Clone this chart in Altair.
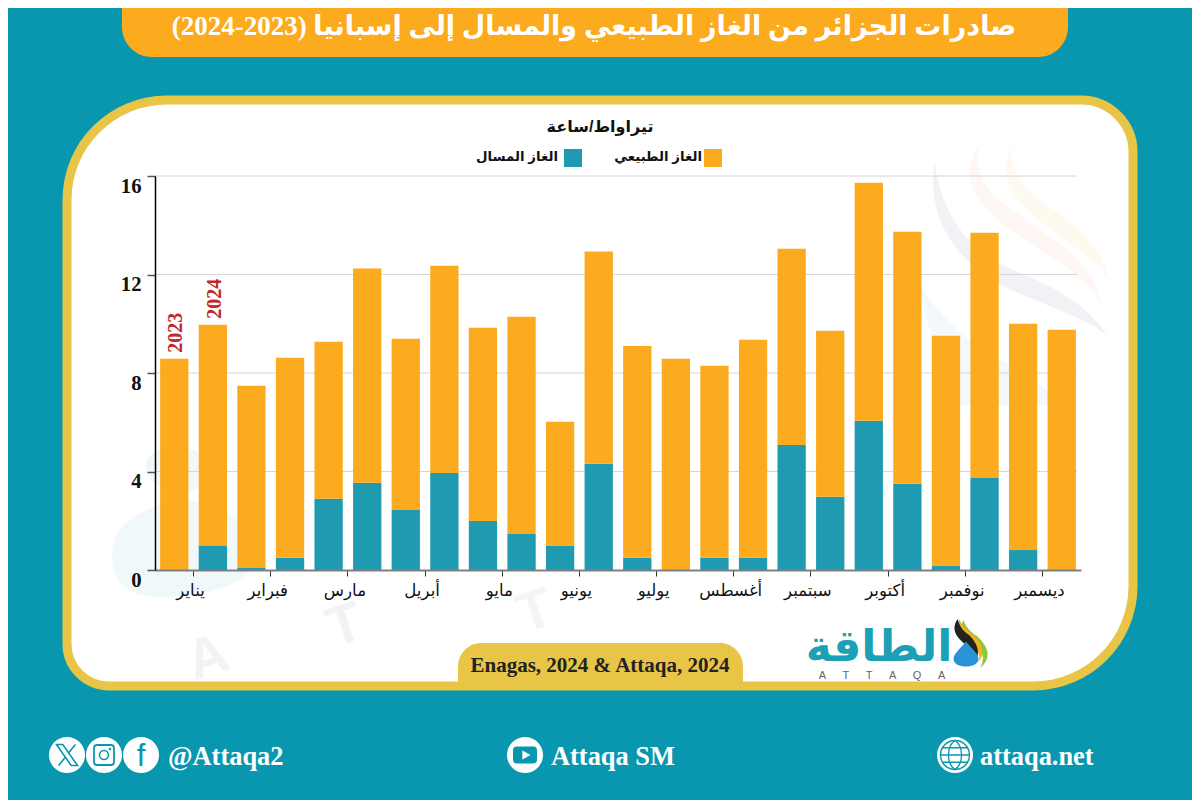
import altair as alt
import pandas as pd

# ---------- data ----------
months = ["يناير", "فبراير", "مارس", "أبريل", "مايو", "يونيو",
          "يوليو", "أغسطس", "سبتمبر", "أكتوبر", "نوفمبر", "ديسمبر"]
lng_2023 = [0.0, 0.08, 2.89, 2.44, 1.99, 1.0, 0.5, 0.5, 5.08, 6.06, 0.16, 0.81]
lng_2024 = [1.0, 0.5, 3.54, 3.94, 1.46, 4.31, 0.0, 0.5, 2.97, 3.5, 3.74, 0.0]
gas_2023 = [8.58, 7.4, 6.38, 6.95, 7.85, 5.02, 8.6, 7.79, 7.97, 9.67, 9.35, 9.19]
gas_2024 = [8.96, 8.12, 8.7, 8.42, 8.82, 8.62, 8.58, 8.85, 6.75, 10.24, 9.96, 9.76]
y_ticks = [0, 4, 8, 12, 16]
GAS = "الغاز الطبيعي"
LNG = "الغاز المسال"
UNIT = "تيراواط/ساعة"
TITLE = "\u202bصادرات الجزائر من الغاز الطبيعي والمسال إلى إسبانيا (2023-2024)\u202c"
SOURCE = "Enagas, 2024 & Attaqa, 2024"

# ---------- style ----------
TEAL_BG = "#0897ae"
GOLD = "#e8c547"
ORANGE = "#fcaa1e"
BLUE = "#1f9ab0"
SERIF = "Liberation Serif, DejaVu Sans"
ARABIC = "Liberation Sans, DejaVu Sans"
MARGIN = 8
PX, PY = 155, 176          # plot origin, in page pixels
W, H = 926, 394
TOTAL_W, TOTAL_H = 1184, 792

rows = []
for i, m in enumerate(months):
    rows.append(dict(month=m, year="2023", kind=LNG, ord=0, value=lng_2023[i]))
    rows.append(dict(month=m, year="2023", kind=GAS, ord=1, value=gas_2023[i]))
    rows.append(dict(month=m, year="2024", kind=LNG, ord=0, value=lng_2024[i]))
    rows.append(dict(month=m, year="2024", kind=GAS, ord=1, value=gas_2024[i]))
df = pd.DataFrame(rows)

EMPTY = alt.Data(values=[{}])


def rect(x1, y1, x2, y2, **kw):
    return alt.Chart(EMPTY).mark_rect(**kw).encode(
        x=alt.value(x1 - PX), x2=alt.value(x2 - PX),
        y=alt.value(y1 - PY), y2=alt.value(y2 - PY))


def text(x, y, s, **kw):
    return alt.Chart(EMPTY).mark_text(**kw).encode(
        x=alt.value(x - PX), y=alt.value(y - PY), text=alt.value(s))


def shape(cx, cy, width, path, fill=None, stroke=None, sw=0, op=1):
    kw = dict(shape=path, size=width * width, opacity=op, strokeWidth=sw)
    if fill:
        kw.update(filled=True, fill=fill)
    else:
        kw.update(filled=False, fill="transparent")
    kw.update(stroke=stroke if stroke else "transparent")
    return alt.Chart(EMPTY).mark_point(**kw).encode(
        x=alt.value(cx - PX), y=alt.value(cy - PY))


CIRCLE = "M-1,0A1,1 0 1,0 1,0A1,1 0 1,0 -1,0Z"
layers = []

# panel
layers.append(rect(67, 100, 1133, 686, fill="white",
                   cornerRadiusTopLeft=100, cornerRadiusTopRight=52,
                   cornerRadiusBottomRight=100, cornerRadiusBottomLeft=42))

# watermark
layers += [
    shape(1020, 245, 190, "M-0.9,-0.9C-1,-0.2 -0.6,0.2 -0.2,0.42C0.2,0.62 0.6,0.72 0.92,0.95"
                          "C0.6,0.5 0.2,0.4 -0.2,0.2C-0.6,0 -0.85,-0.4 -0.9,-0.9Z",
          fill="#dfe3e8", op=0.45),
    shape(1030, 230, 170, "M-0.6,-1C-0.95,-0.5 -0.4,-0.1 0,0.15C0.4,0.4 0.7,0.6 0.85,0.9"
                          "C0.75,0.4 0.4,0.2 0.05,-0.05C-0.3,-0.3 -0.7,-0.5 -0.6,-1Z",
          fill="#fbe3dc", op=0.3),
    shape(1050, 220, 150, "M-0.5,-1C-0.8,-0.5 -0.3,-0.1 0.1,0.2C0.4,0.4 0.7,0.6 0.8,0.85"
                          "C0.7,0.4 0.4,0.1 0.1,-0.1C-0.2,-0.3 -0.6,-0.6 -0.5,-1Z",
          fill="#fdf3d8", op=0.4),
    shape(990, 320, 170, "M-0.9,-0.6C-0.8,-0.1 -0.6,0.3 -0.55,1L0.8,1C0.6,0.6 0,0.5 -0.4,0.1C-0.6,-0.1 -0.8,-0.3 -0.9,-0.6Z",
          fill="#e9f4f8", op=0.6),
    shape(182, 522, 150, "M-0.1,-1C0.3,-1 0.5,-0.75 0.3,-0.5C0.1,-0.35 -0.2,-0.4 -0.4,-0.55C-0.6,-0.8 -0.4,-1 -0.1,-1Z"
                          "M-0.1,-0.3C0.3,-0.3 0.9,-0.1 1,0.4C1,0.8 0.4,1 -0.3,1C-0.9,1 -1,0.6 -0.9,0.2C-0.7,-0.1 -0.4,-0.2 -0.1,-0.3Z",
          fill="#eef7f9", op=0.9),
    text(208, 658, "A", font="Liberation Sans", fontSize=56, fontWeight="bold", fill="#f2f3f4",
         angle=342, align="center"),
    text(345, 626, "T", font="Liberation Sans", fontSize=56, fontWeight="bold", fill="#f2f3f4",
         angle=342, align="center"),
    text(535, 612, "T", font="Liberation Sans", fontSize=56, fontWeight="bold", fill="#f4f5f6",
         angle=342, align="center"),
]

# shared y scale and axis
y_scale = alt.Scale(domain=[0, 16])
y_axis = alt.Axis(values=y_ticks, grid=False, labelFont="Liberation Serif", labelFontSize=20.7,
                  labelFontWeight="bold", labelColor="#111", labelBaseline="top",
                  labelPadding=6, domainColor="#000", domainWidth=1.5,
                  tickColor="#555", tickSize=8, tickWidth=1.5, zindex=1)

# grid
grid = alt.Chart(pd.DataFrame({"t": [v for v in y_ticks if v > 0]})).mark_rule(
    color="#d6d6d6", strokeWidth=1).encode(
    y=alt.Y("t:Q", scale=y_scale, axis=y_axis, title=None),
    x=alt.value(0), x2=alt.value(922))
layers.append(grid)

# bars
x_scale = alt.Scale(domain=months, paddingInner=0, paddingOuter=0)
xo_scale = alt.Scale(domain=["2023", "2024"], paddingInner=0.267, paddingOuter=0.133)
bars = alt.Chart(df).mark_bar(strokeWidth=0).encode(
    x=alt.X("month:N", sort=months, scale=x_scale, title=None,
            axis=alt.Axis(labelAngle=0, labelFont=ARABIC, labelFontSize=16.6, labelColor="#111",
                          labelPadding=6, labelOffset=-3, labelOverlap=False, domainColor="#7f7f7f", domainWidth=2,
                          tickColor="#333", tickSize=6, tickWidth=1, zindex=1)),
    xOffset=alt.XOffset("year:N", scale=xo_scale),
    y=alt.Y("value:Q", stack="zero", scale=y_scale, axis=y_axis, title=None),
    color=alt.Color("kind:N", scale=alt.Scale(domain=[GAS, LNG], range=[ORANGE, BLUE]), legend=None),
    order=alt.Order("ord:Q"),
)
layers.append(bars)

# year labels
year_df = pd.DataFrame({
    "month": [months[0], months[0]],
    "year": ["2023", "2024"],
    "total": [lng_2023[0] + gas_2023[0], lng_2024[0] + gas_2024[0]],
})
layers.append(alt.Chart(year_df).mark_text(
    font="Liberation Serif", fontSize=20, fontWeight="bold", fill="#c1272d",
    angle=270, align="left", baseline="middle", dx=6, dy=2).encode(
    x=alt.X("month:N", sort=months, scale=x_scale),
    xOffset=alt.XOffset("year:N", scale=xo_scale),
    y=alt.Y("total:Q", scale=y_scale),
    text="year:N"))

# panel border on top of the watermark
layers.append(rect(67, 100, 1133, 686, fill="transparent", stroke=GOLD, strokeWidth=9,
                   cornerRadiusTopLeft=100, cornerRadiusTopRight=52,
                   cornerRadiusBottomRight=100, cornerRadiusBottomLeft=42))

# header
layers.append(rect(122, -40, 1068, 57, fill=ORANGE, cornerRadiusBottomLeft=30, cornerRadiusBottomRight=30))
layers.append(text(594, 27, TITLE, font=SERIF, fontSize=27, fontWeight="bold", fill="white", baseline="middle"))

# unit + legend
layers.append(text(600, 127, UNIT, font=ARABIC, fontSize=16, fontWeight="bold", fill="#111", baseline="middle"))
layers.append(rect(704, 149, 722, 167, fill=ORANGE))
layers.append(text(702, 157, GAS, font=ARABIC, fontSize=13.3, fontWeight="bold", fill="#111", align="right", baseline="middle"))
layers.append(rect(564, 149, 582, 167, fill=BLUE))
layers.append(text(558, 157, LNG, font=ARABIC, fontSize=13.3, fontWeight="bold", fill="#111", align="right", baseline="middle"))

# source pill
layers.append(rect(458, 643, 743, 690, fill=GOLD, cornerRadiusTopLeft=26, cornerRadiusTopRight=26))
layers.append(text(600, 666, SOURCE, font="Liberation Serif", fontSize=21, fontWeight="bold", fill="#222", baseline="middle"))

# logo
layers.append(text(879, 648, "الطاقة", font="DejaVu Sans", fontSize=44, fontWeight="bold", fill="#1ba0b6", baseline="middle"))
layers.append(text(882, 676, "A\u2003\u2002T\u2003\u2002T\u2003\u2002A\u2003\u2002Q\u2003\u2002A",
                   font="Liberation Sans", fontSize=11, fill="#666", baseline="middle"))
layers += [
    shape(973, 644, 48, "M-0.4,-1C-0.7,-0.4 -0.1,0 0.3,0.3C0.5,0.5 0.4,0.8 0.3,1C0.9,0.5 0.5,0 0.2,-0.3C-0.1,-0.5 -0.3,-0.7 -0.4,-1Z", fill="#8dc63f"),
    shape(971, 642, 46, "M-0.5,-1C-0.8,-0.4 -0.2,0 0.2,0.3C0.4,0.5 0.4,0.7 0.3,0.9C0.7,0.5 0.4,0 0.1,-0.3C-0.2,-0.5 -0.4,-0.7 -0.5,-1Z", fill="#f7b21b"),
    shape(969, 642, 46, "M-0.5,-1C-0.9,-0.4 -0.3,0 0.1,0.3C0.3,0.5 0.3,0.7 0.2,0.9C0.6,0.5 0.3,0 0,-0.3C-0.3,-0.5 -0.4,-0.7 -0.5,-1Z", fill="#222"),
    shape(966, 654, 25, "M0,-1C0.5,-0.4 1,0 1,0.4C1,0.8 0.5,1 0,1C-0.5,1 -1,0.8 -1,0.4C-1,0 -0.5,-0.4 0,-1Z", fill="#2a93d5"),
]

# footer
for cx in (67, 104, 141, 525, 955):
    layers.append(shape(cx, 755, 36, CIRCLE, fill="white"))
layers.append(shape(67, 755, 21, "M-1,-1L-0.4,-1L1,1L0.4,1ZM0.8,-1L0.1,-0.15M-0.1,0.15L-0.8,1", stroke=TEAL_BG, sw=1.6))
layers.append(shape(104, 755, 20, "M-0.7,-1L0.7,-1Q1,-1 1,-0.7L1,0.7Q1,1 0.7,1L-0.7,1Q-1,1 -1,0.7L-1,-0.7Q-1,-1 -0.7,-1Z", stroke=TEAL_BG, sw=1.8))
layers.append(shape(104, 755, 9, CIRCLE, stroke=TEAL_BG, sw=1.6))
layers.append(shape(110, 749, 2.5, CIRCLE, fill=TEAL_BG))
layers.append(text(141, 757, "f", font="Liberation Sans", fontSize=31, fill=TEAL_BG, baseline="middle"))
layers.append(shape(525, 755, 24, "M-0.7,-0.7L0.7,-0.7Q1,-0.7 1,-0.4L1,0.4Q1,0.7 0.7,0.7L-0.7,0.7Q-1,0.7 -1,0.4L-1,-0.4Q-1,-0.7 -0.7,-0.7Z", fill=TEAL_BG))
layers.append(shape(526, 755, 9, "M-0.8,-1L1,0L-0.8,1Z", fill="white"))
layers.append(shape(955, 755, 29, CIRCLE, stroke=TEAL_BG, sw=1.5))
layers.append(shape(955, 755, 29, "M0,-1C-0.6,-0.6 -0.6,0.6 0,1C0.6,0.6 0.6,-0.6 0,-1ZM-1,0L1,0M-0.85,-0.5L0.85,-0.5M-0.85,0.5L0.85,0.5", stroke=TEAL_BG, sw=1.3))
for x, s in ((168, "@Attaqa2"), (551, "Attaqa SM"), (980, "attaqa.net")):
    layers.append(text(x, 757, s, font="Liberation Serif", fontSize=26.4, fontWeight="bold", fill="white",
                       align="left", baseline="middle"))

pad_left, pad_top = PX - MARGIN, PY - MARGIN
chart = alt.layer(*layers).resolve_scale(x="shared", y="shared").properties(
    width=W, height=H,
    background=TEAL_BG,
    padding={"left": pad_left, "top": pad_top, "right": TOTAL_W - pad_left - W, "bottom": TOTAL_H - pad_top - H},
    autosize=alt.AutoSizeParams(type="none"),
).configure_view(stroke=None)

chart.save("out.html", embed_options={"renderer": "svg", "actions": False})
